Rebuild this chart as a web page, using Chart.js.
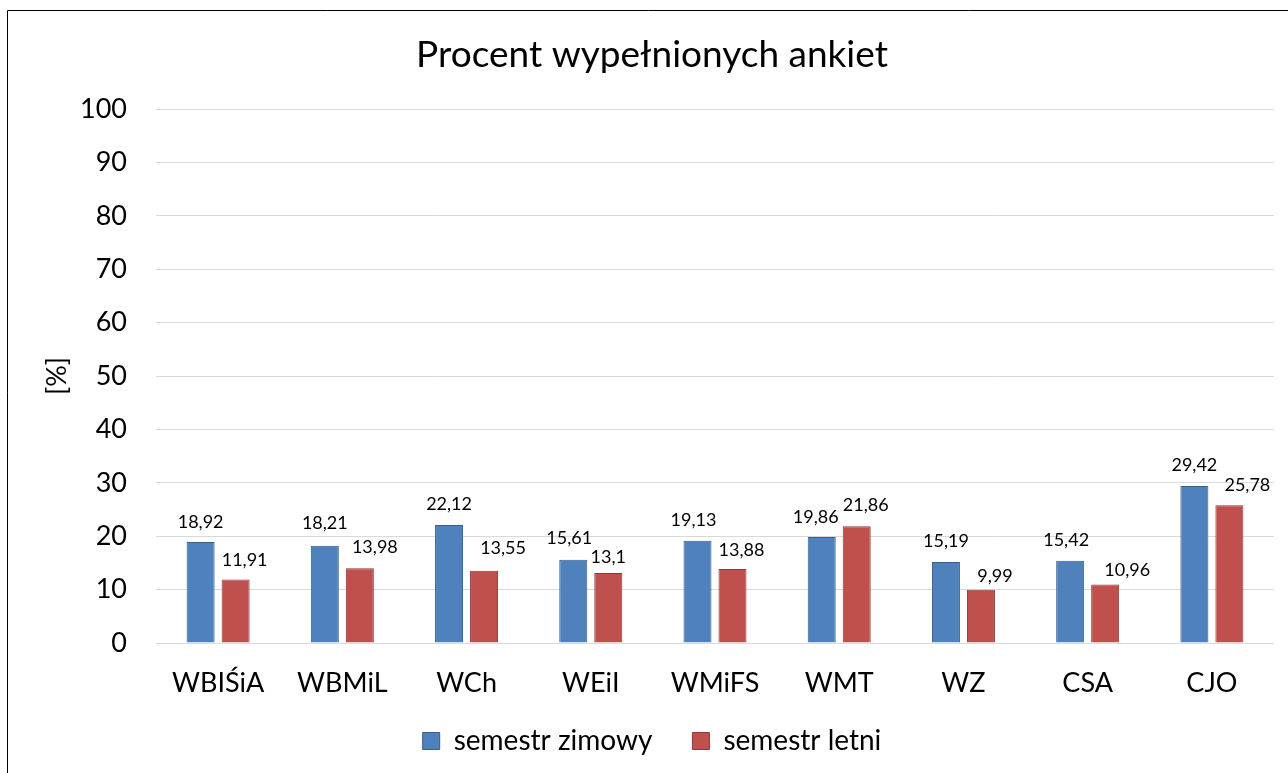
<!DOCTYPE html>
<html>
<head>
<meta charset="utf-8">
<script src="https://cdn.jsdelivr.net/npm/chart.js@4.4.1/dist/chart.umd.min.js"></script>
<style>
html,body{margin:0;padding:0;background:#fff;overflow:hidden;}
#wrap{position:relative;width:1288px;height:773px;}
</style>
</head>
<body>
<div id="wrap"><canvas id="c" width="1288" height="773"></canvas></div>
<script>
const categories = ['WBIŚiA','WBMiL','WCh','WEiI','WMiFS','WMT','WZ','CSA','CJO'];
const winterValues = [18.92, 18.21, 22.12, 15.61, 19.13, 19.86, 15.19, 15.42, 29.42];
const summerValues = [11.91, 13.98, 13.55, 13.1, 13.88, 21.86, 9.99, 10.96, 25.78];
const seriesNames = ['semestr zimowy', 'semestr letni'];
const titleText = 'Procent wypełnionych ankiet';
const yAxisTitle = '[%]';

// value-label nudges (px) relative to each bar, as placed in the original
const winterLabelDx = [0, 0, 0, -4, -4, -6, 0, -4, 0];
const winterLabelGap = [14, 17, 15, 16, 15, 14, 15, 15, 15];
const summerLabelDx = [9, 15, 19, 0, 9, 9, 14, 22, 18];
const summerLabelGap = [13, 15, 17, 10, 13, 15, 8, 8, 14];

const FONT = 'Lato, "Open Sans", sans-serif';

const framePlugin = {
  id: 'frame',
  beforeDraw(chart) {
    const ctx = chart.ctx;
    ctx.save();
    ctx.fillStyle = '#fff';
    ctx.fillRect(0, 0, chart.width, chart.height);
    ctx.strokeStyle = '#000';
    ctx.lineWidth = 1;
    ctx.beginPath();
    ctx.moveTo(7.5, chart.height + 5);
    ctx.lineTo(7.5, 10.5);
    ctx.lineTo(chart.width + 5, 10.5);
    ctx.stroke();
    ctx.restore();
  }
};

const labelPlugin = {
  id: 'barLabels',
  afterDatasetsDraw(chart) {
    const ctx = chart.ctx;
    ctx.save();
    ctx.font = '18px ' + FONT;
    ctx.fillStyle = '#000';
    ctx.textAlign = 'center';
    ctx.textBaseline = 'alphabetic';
    const dxs = [winterLabelDx, summerLabelDx];
    const gaps = [winterLabelGap, summerLabelGap];
    chart.data.datasets.forEach((ds, di) => {
      const meta = chart.getDatasetMeta(di);
      meta.data.forEach((bar, i) => {
        const txt = String(ds.data[i]).replace('.', ',');
        ctx.fillText(txt, bar.x + dxs[di][i], bar.y - gaps[di][i]);
      });
    });
    ctx.restore();
  }
};

new Chart(document.getElementById('c'), {
  type: 'bar',
  data: {
    labels: categories,
    datasets: [
      {
        label: seriesNames[0],
        data: winterValues,
        backgroundColor: '#4F81BD',
        borderColor: '#385D8A',
        borderWidth: 1,
        categoryPercentage: 0.5636,
        barPercentage: 0.8
      },
      {
        label: seriesNames[1],
        data: summerValues,
        backgroundColor: '#C0504D',
        borderColor: '#8C3836',
        borderWidth: 1,
        categoryPercentage: 0.5636,
        barPercentage: 0.8
      }
    ]
  },
  options: {
    responsive: false,
    animation: false,
    devicePixelRatio: 1,
    layout: { padding: { left: 30, right: 14, top: 0, bottom: 8 } },
    plugins: {
      title: {
        display: true,
        text: titleText,
        color: '#000',
        font: { family: FONT, size: 37, weight: 'normal' },
        padding: { top: 32.8, bottom: 31.8 }
      },
      legend: {
        display: true,
        position: 'bottom',
        labels: {
          color: '#000',
          font: { family: FONT, size: 28 },
          boxWidth: 17,
          boxHeight: 17,
          padding: 40
        }
      },
      tooltip: { enabled: false }
    },
    scales: {
      x: {
        grid: { display: false, drawTicks: false },
        border: { display: false },
        ticks: { color: '#000', font: { family: FONT, size: 27 }, padding: 24, maxRotation: 0 },
        afterFit(scale) {
          scale.height = 44;
          scale._computeLabelArea = function () { return undefined; };
        }
      },
      y: {
        min: 0,
        max: 100,
        ticks: { stepSize: 10, color: '#000', font: { family: FONT, size: 27 }, padding: 29 },
        grid: { color: '#d9d9d9', lineWidth: 1, drawTicks: false },
        border: { display: false },
        title: {
          display: true,
          text: yAxisTitle,
          color: '#000',
          font: { family: FONT, size: 27 },
          padding: { top: 10.8, bottom: 0 }
        },
        afterFit(scale) { scale.width = 126; }
      }
    }
  },
  plugins: [framePlugin, labelPlugin]
});
</script>
</body>
</html>
